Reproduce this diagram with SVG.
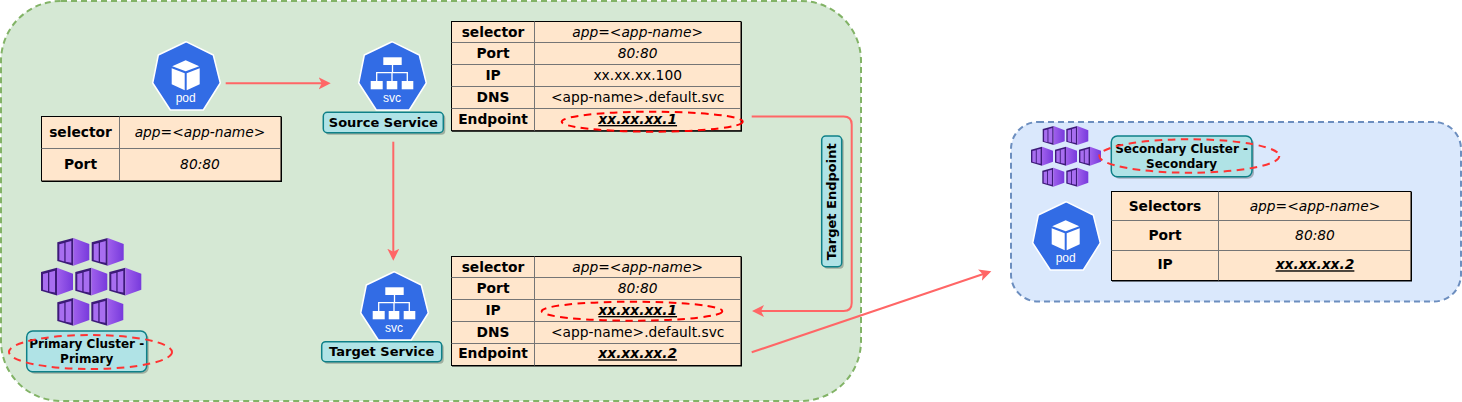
<svg xmlns="http://www.w3.org/2000/svg" xmlns:xlink="http://www.w3.org/1999/xlink" width="1462" height="402" viewBox="0 0 1462 402">
<style>
text{font-family:"DejaVu Sans",Verdana,sans-serif;font-size:13.8px;fill:#000;text-anchor:middle}
.b{font-weight:bold}
.i{font-style:italic}
.u{font-weight:bold;font-style:italic;text-decoration:underline}
.lab{font-size:13px;font-weight:bold}
.clab{font-size:12px;font-weight:bold}
.ico{font-family:"Liberation Sans",Arial,sans-serif;font-size:12px;fill:#fff}
.tb{fill:#ffe6cc;stroke:#000;stroke-width:1}
.sh{fill:#000}
.gl{stroke:#757575;stroke-width:1;fill:none}
.tag{fill:#b0e3e6;stroke:#0e8088;stroke-width:1.5}
.tagsh{fill:#000;opacity:.25}
.conn{fill:none;stroke:#ff6666;stroke-width:2}
.dash{fill:none;stroke-width:2;stroke-dasharray:7.5 5.5}
</style>
<defs>
<marker id="arr" markerUnits="userSpaceOnUse" markerWidth="14" markerHeight="14" refX="9" refY="7" orient="auto">
<path d="M0,1 L12,7 L0,13 L3,7 Z" fill="#ff6666"/>
</marker>
<linearGradient id="cg" x1="0" x2="1" y1="0" y2="0"><stop offset="0" stop-color="#a060ec"/><stop offset="1" stop-color="#773adc"/></linearGradient>
<g id="hex"><path d="M0,0 L27.3,13.3 L34.3,41.3 L17.3,68.3 L-15.7,68.3 L-33.3,41.3 L-27.7,13.3 Z" fill="#326ce5" stroke="#fff" stroke-width="1.5" stroke-linejoin="round"/></g>
<g id="cube" fill="#fff"><path d="M0,18.5 L13.5,24.5 L0,29.5 L-13.5,24.5 Z"/><path d="M-14,26.5 L-1,31.5 L-1,48.5 L-14,42.5 Z"/><path d="M14,26.5 L1,31.5 L1,48.5 L14,42.5 Z"/></g>
<g id="tree" fill="#fff"><rect x="-8.7" y="15.6" width="18.4" height="7.7"/><rect x="-21.3" y="39.3" width="12" height="8.3"/><rect x="-5.3" y="39.3" width="10.6" height="8.3"/><rect x="9.7" y="39.3" width="11.6" height="8.3"/><path d="M0.5,23.3 V31 M-15.3,39.3 V31 H15.3 V39.3 M0,31 V39.3" fill="none" stroke="#fff" stroke-width="1.3"/></g>
<g id="box"><path d="M0,4.3 L16,0 V27.7 L0,23 Z" fill="#3d1a78"/><path d="M16,0 L32,6 V22 L16,27.7 Z" fill="url(#cg)"/><path d="M2,6.3 L7,5 V23.5 L2,22 Z M8.3,4.5 L14,3 V24.8 L8.3,23.8 Z" fill="#a86ef0"/></g>
</defs>

<g id="primary-cluster-area"><rect x="1" y="1" width="860" height="400" rx="60" fill="#d5e8d4" stroke="#82b366" stroke-width="2" stroke-dasharray="6 4"/></g>
<g id="secondary-cluster-area"><rect x="1011" y="122" width="450" height="179.500" rx="27" fill="#dae8fc" stroke="#6c8ebf" stroke-width="2" stroke-dasharray="6 4"/></g>

<g id="connectors">
<path class="conn" d="M225.700,83.300 H327.700" marker-end="url(#arr)"/>
<path class="conn" d="M393.300,141.700 V257.700" marker-end="url(#arr)"/>
<path class="conn" d="M751.700,116.500 H843.700 Q851.700,116.500 851.700,124.500 V303 Q851.700,311 843.700,311 H755" marker-end="url(#arr)"/>
<path class="conn" d="M751.700,352.300 L988.500,272.300" marker-end="url(#arr)"/>
</g>

<g id="pod-source">
<use xlink:href="#hex" href="#hex" transform="translate(186,41.700)"/>
<use xlink:href="#cube" href="#cube" transform="translate(185.700,41.700)"/>
<text class="ico" x="185.700" y="102.400">pod</text>
</g>
<g id="pod-table">
<rect class="sh" x="42" y="117" width="240" height="65"/>
<rect class="tb" x="41.500" y="116.500" width="239.500" height="64.500"/>
<path class="gl" d="M119.500,116.500 V181 M41.500,148.500 H281"/>
<text class="b" x="80.500" y="136.700">selector</text><text class="i" x="200" y="136.700">app=&lt;app-name&gt;</text>
<text class="b" x="80.500" y="168.800">Port</text><text class="i" x="200" y="168.800">80:80</text>
</g>

<g id="source-service">
<use xlink:href="#hex" href="#hex" transform="translate(392,41.700)"/>
<use xlink:href="#tree" href="#tree" transform="translate(392,41.700)"/>
<text class="ico" x="392" y="102.400">svc</text>
<rect class="tagsh" x="325.300" y="114.300" width="120" height="20.400" rx="4"/>
<rect class="tag" x="323.300" y="112.300" width="120" height="20.400" rx="4"/>
<text class="lab" x="383.300" y="126.700">Source Service</text>
</g>
<g id="source-table">
<rect class="sh" x="452" y="22" width="290" height="109.700"/>
<rect class="tb" x="451.500" y="21.500" width="289.500" height="109.200"/>
<path class="gl" d="M534.500,21.500 V130.700 M451.500,42.500 H741 M451.500,64.500 H741 M451.500,86.500 H741 M451.500,108.500 H741"/>
<text class="b" x="493" y="36.700">selector</text><text class="i" x="637.700" y="36.700">app=&lt;app-name&gt;</text>
<text class="b" x="493" y="58.300">Port</text><text class="i" x="637.700" y="58.300">80:80</text>
<text class="b" x="493" y="80">IP</text><text x="637.700" y="80">xx.xx.xx.100</text>
<text class="b" x="493" y="101.700">DNS</text><text x="637.700" y="101.700">&lt;app-name&gt;.default.svc</text>
<text class="b" x="493" y="124">Endpoint</text><text class="u" x="637.700" y="124">xx.xx.xx.1</text>
<ellipse class="dash" stroke="#ff0000" cx="652.200" cy="121.700" rx="90.500" ry="10"/>
</g>

<g id="target-service">
<use xlink:href="#hex" href="#hex" transform="translate(394,271.700)"/>
<use xlink:href="#tree" href="#tree" transform="translate(394,271.700)"/>
<text class="ico" x="394" y="332.400">svc</text>
<rect class="tagsh" x="323.700" y="343.700" width="120" height="20" rx="4"/>
<rect class="tag" x="321.700" y="341.700" width="120" height="20" rx="4"/>
<text class="lab" x="381.700" y="355.700">Target Service</text>
</g>
<g id="target-table">
<rect class="sh" x="452" y="257" width="290" height="109.500"/>
<rect class="tb" x="451.500" y="256.500" width="289.500" height="109"/>
<path class="gl" d="M534.500,256.500 V365.500 M451.500,277.500 H741 M451.500,299.500 H741 M451.500,321.500 H741 M451.500,343.500 H741"/>
<text class="b" x="493" y="271.700">selector</text><text class="i" x="637.700" y="271.700">app=&lt;app-name&gt;</text>
<text class="b" x="493" y="292.700">Port</text><text class="i" x="637.700" y="292.700">80:80</text>
<text class="b" x="493" y="315">IP</text><text class="u" x="637.700" y="315">xx.xx.xx.1</text>
<text class="b" x="493" y="336.700">DNS</text><text x="637.700" y="336.700">&lt;app-name&gt;.default.svc</text>
<text class="b" x="493" y="358.300">Endpoint</text><text class="u" x="637.700" y="358.300">xx.xx.xx.2</text>
<ellipse class="dash" stroke="#ff0000" cx="632" cy="311.200" rx="90.300" ry="9.500"/>
</g>

<g id="primary-cluster">
<use xlink:href="#box" href="#box" x="57.300" y="238"/>
<use xlink:href="#box" href="#box" x="91.700" y="238"/>
<use xlink:href="#box" href="#box" x="41" y="267.700"/>
<use xlink:href="#box" href="#box" x="75.300" y="267.700"/>
<use xlink:href="#box" href="#box" x="109.300" y="267.700"/>
<use xlink:href="#box" href="#box" x="57.300" y="298"/>
<use xlink:href="#box" href="#box" x="91.300" y="298"/>
<rect class="tagsh" x="28.700" y="333" width="120" height="40.700" rx="6"/>
<rect class="tag" x="26.700" y="331" width="120" height="40.700" rx="6"/>
<text class="clab" x="86.700" y="348.300">Primary Cluster -</text>
<text class="clab" x="86.700" y="363.300">Primary</text>
<ellipse class="dash" stroke="#ff3333" cx="90.500" cy="352" rx="81.500" ry="17"/>
</g>

<g id="target-endpoint-label">
<rect class="tagsh" x="823.700" y="138" width="20" height="130.700" rx="4"/>
<rect class="tag" x="821.700" y="136" width="20" height="130.700" rx="4"/>
<text class="lab" transform="translate(836,201.800) rotate(-90)">Target Endpoint</text>
</g>

<g id="secondary-cluster">
<g transform="translate(1042.700,126) scale(.6875)"><use xlink:href="#box" href="#box"/></g>
<g transform="translate(1066.300,126) scale(.6875)"><use xlink:href="#box" href="#box"/></g>
<g transform="translate(1031,146.700) scale(.6875)"><use xlink:href="#box" href="#box"/></g>
<g transform="translate(1055,146.700) scale(.6875)"><use xlink:href="#box" href="#box"/></g>
<g transform="translate(1079,146.700) scale(.6875)"><use xlink:href="#box" href="#box"/></g>
<g transform="translate(1042.300,167.700) scale(.6875)"><use xlink:href="#box" href="#box"/></g>
<g transform="translate(1066.300,167.700) scale(.6875)"><use xlink:href="#box" href="#box"/></g>
<rect class="tagsh" x="1113.300" y="138" width="140.700" height="40.700" rx="6"/>
<rect class="tag" x="1111.300" y="136" width="140.700" height="40.700" rx="6"/>
<text class="clab" x="1181.600" y="153.300">Secondary Cluster -</text>
<text class="clab" x="1181.600" y="168.300">Secondary</text>
<ellipse class="dash" stroke="#ff3333" cx="1189.300" cy="156" rx="90" ry="16.700"/>
</g>

<g id="pod-destination">
<use xlink:href="#hex" href="#hex" transform="translate(1066,201.700)"/>
<use xlink:href="#cube" href="#cube" transform="translate(1065.700,201.700)"/>
<text class="ico" x="1065.700" y="262.400">pod</text>
</g>
<g id="destination-table">
<rect class="sh" x="1112" y="192" width="300" height="89.500"/>
<rect class="tb" x="1111.500" y="191.500" width="299.500" height="89"/>
<path class="gl" d="M1218.500,191.500 V280.500 M1111.500,220.500 H1411 M1111.500,250.500 H1411"/>
<text class="b" x="1165" y="210.700">Selectors</text><text class="i" x="1315" y="210.700">app=&lt;app-name&gt;</text>
<text class="b" x="1165" y="239.800">Port</text><text class="i" x="1315" y="239.800">80:80</text>
<text class="b" x="1165" y="269.300">IP</text><text class="u" x="1315" y="269.300">xx.xx.xx.2</text>
</g>
</svg>
